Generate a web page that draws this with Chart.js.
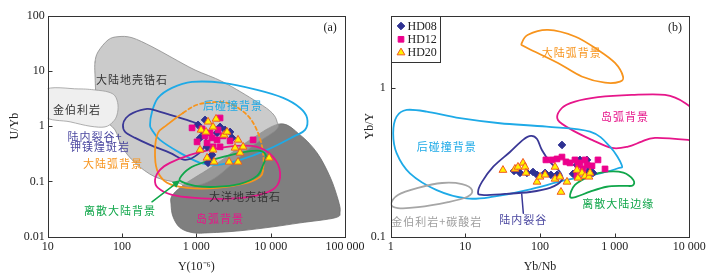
<!DOCTYPE html>
<html lang="zh">
<head>
<meta charset="UTF-8">
<title>锆石构造环境判别图</title>
<style>
    body { margin: 0; background: #fff; }
    .wrap { position: relative; width: 711px; height: 278px; overflow: hidden; }
    #chartA { position: absolute; left: 0; top: 0; }
    #chartB { position: absolute; left: 355px; top: 0; }
</style>
</head>
<body>
<div class="wrap">
    <canvas id="chartA" width="380" height="278"></canvas>
    <canvas id="chartB" width="356" height="278"></canvas>
</div>
<script src="https://cdn.jsdelivr.net/npm/chart.js"></script>
<script>
// ---- panel (a): U/Yb vs Y(10^-6) ----
const xTicksA = [10, 100, 1000, 10000, 100000];
const yTicksA = [0.01, 0.1, 1, 10, 100];

const hd08a = [[1054,1.055],[1309,1.30],[2084,0.971],[2843,0.788],[3023,0.614],[1437,0.217],[1528,0.279],[1393,0.423],[1122,0.614],[1899,0.757],[2433,0.857],[1626,0.303],[1231,0.788]];
const hd12a = [[875,0.932],[1022,0.520],[2084,1.41],[5797,0.565],[2843,0.542],[1193,0.894],[1528,0.757],[1393,0.499],[1899,0.565],[1678,0.423],[2084,0.423],[1959,0.857],[1309,0.668],[1626,0.614],[2288,0.668]];
const hd20a = [[1437,1.20],[1841,1.355],[1678,0.971],[1157,0.857],[1351,0.788],[2360,0.696],[2588,0.788],[3640,0.565],[4253,0.423],[3318,0.405],[3873,0.329],[1122,0.373],[1678,0.373],[1393,0.267],[1730,0.226],[2754,0.226],[3640,0.226],[9517,0.267]];

// field outlines (Y, U/Yb)
const oceanicCrust = [[471,0.0549],[705,0.0905],[1786,0.200],[5284,0.565],[13390,1.10],[24880,0.696],[42100,0.329],[63000,0.121],[80800,0.0465],[85900,0.0282],[73600,0.022],[24880,0.0178],[10770,0.0151],[3873,0.0128],[1528,0.0118],[904,0.0118],[604,0.0145],[486,0.0229],[457,0.0378]];
const continentalCrust = [[43.3,14.5],[47.5,22.1],[64.8,36.4],[88.3,41.7],[136,40],[253,27.5],[471,17.4],[960,10.4],[2288,6.32],[6561,2.75],[10450,1.74],[12190,1.20],[11830,0.857],[5284,0.405],[1786,0.116],[823,0.0798],[567,0.0944],[278,0.121],[150,0.217],[100,0.423],[80.5,0.857],[55.5,1.41],[45.6,2.99],[43.3,8.47]];
const kimberliteA = [[9,4.53],[25.6,4.73],[43.3,4.53],[64.8,4.17],[80.5,3.53],[88.3,2.43],[85.6,1.60],[75.7,1.20],[59,0.971],[37.1,1.0],[20,1.20],[9,1.53]];
const postCollisionA = [[238,1.055],[253,1.81],[305,3.25],[471,4.93],[875,6.32],[2288,6.07],[6561,4.53],[14700,3.25],[24880,2.14],[30900,1.41],[29000,0.857],[20000,0.641],[8944,0.373],[3873,0.246],[1899,0.200],[1122,0.217],[604,0.329],[324,0.565],[253,0.857]];
const contArcA = [[662,1.74],[1122,2.53],[2588,2.64],[4810,1.60],[6765,0.757],[7903,0.329],[7903,0.162],[7197,0.121],[4810,0.0944],[1899,0.0766],[750,0.0766],[403,0.0944],[296,0.162],[278,0.373],[305,0.757],[403,1.055]];
const riftA = [[103,1.055],[113,1.41],[141,1.74],[217,2.05],[296,1.89],[550,1.47],[960,1.15],[1309,0.857],[1309,0.459],[1022,0.303],[705,0.246],[442,0.329],[238,0.459],[150,0.614],[110,0.788]];
const dispersedA = [[604,0.116],[823,0.176],[1309,0.226],[2288,0.279],[4521,0.343],[7197,0.358],[8670,0.290],[7903,0.200],[6561,0.126],[3873,0.0905],[1786,0.0798],[960,0.0832],[642,0.0984]];
const islandArcA = [[278,0.107],[324,0.162],[442,0.217],[823,0.303],[1528,0.373],[3318,0.440],[6561,0.423],[10770,0.279],[13390,0.143],[11460,0.0766],[6166,0.0549],[2433,0.0485],[960,0.0505],[471,0.0573],[305,0.0766]];
const arrowA = [[253,0.0428],[567,0.0984]];

// ---- panel (b): Yb/Y vs Yb/Nb ----
const xTicksB = [1, 10, 100, 1000, 10000];
const yTicksB = [0.1, 1];

const hd08b = [[197,0.415],[44.9,0.277],[54,0.269],[67,0.269],[80.6,0.273],[91.2,0.261],[117,0.269],[140,0.261],[169,0.261],[277,0.265],[313,0.304],[343,0.329],[426,0.329],[440,0.273],[513,0.269],[468,0.290]];
const hd12b = [[120,0.329],[145,0.329],[169,0.334],[197,0.344],[223,0.319],[252,0.314],[294,0.329],[323,0.304],[343,0.314],[401,0.329],[426,0.304],[377,0.286],[598,0.329],[743,0.286],[313,0.256],[497,0.300]];
const hd20b = [[31.9,0.281],[46.2,0.286],[50.7,0.295],[59.2,0.314],[63,0.295],[64.9,0.269],[91.2,0.234],[100,0.253],[117,0.261],[159,0.295],[159,0.245],[185,0.253],[230,0.234],[191,0.200],[313,0.281],[323,0.249],[365,0.269],[401,0.256],[453,0.253],[468,0.269]];

const contArcB = [[56.9,2.01],[69.1,2.29],[128,2.47],[294,2.23],[598,1.81],[1011,1.48],[1294,1.20],[1180,1.108],[743,1.09],[362,1.20],[174,1.48],[85.7,1.76],[59.2,1.93]];
const islandArcB = [[174,0.611],[195,0.733],[294,0.812],[598,0.870],[1692,0.901],[4726,0.901],[8750,0.796],[11920,0.661],[11920,0.437],[9607,0.449],[3472,0.463],[2303,0.437],[1510,0.404],[921,0.396],[497,0.449],[294,0.510]];
const postCollisionB = [[1.64,0.714],[3.03,0.696],[8.48,0.628],[29.1,0.581],[123,0.551],[468,0.510],[866,0.404],[1243,0.304],[1109,0.289],[637,0.267],[228,0.241],[66.4,0.206],[23.7,0.186],[10.4,0.181],[4.13,0.206],[1.81,0.267],[1.20,0.365],[1.08,0.497],[1.20,0.644]];
const riftB = [[14.8,0.200],[16.7,0.234],[23.5,0.295],[39.6,0.372],[59.2,0.449],[75.8,0.477],[91.2,0.455],[106,0.384],[136,0.319],[185,0.273],[197,0.241],[136,0.213],[73.5,0.200],[34,0.194],[16.7,0.191]];
const riftPointer = [[56.9,0.194],[59.8,0.144]];
const kimbCarbB = [[1.01,0.166],[1.25,0.191],[2.32,0.213],[4.87,0.230],[9.02,0.226],[12.3,0.206],[10.5,0.185],[5.86,0.171],[2.32,0.158],[1.25,0.156]];
const dispersedB = [[252,0.186],[294,0.223],[468,0.256],[783,0.274],[1306,0.270],[1778,0.241],[1745,0.221],[1306,0.220],[783,0.217],[468,0.201],[310,0.186]];

const CYAN = '#1eaae7', ORANGE = '#f7941d', PURPLE = '#3a3896', GREEN = '#10a64a', PINK = '#e6168a';
const SERIF = '"Liberation Serif", "Times New Roman", serif';
const CJK = '"Noto Sans CJK SC", sans-serif';

const xy = arr => arr.map(([x, y]) => ({ x, y }));

function fmt(v) {
    if (v >= 1000) return String(v).replace(/\B(?=(\d{3})+(?!\d))/g, ' ');
    return String(v);
}

// field outlines and annotations per canvas (kept out of chart options so
// the option resolver does not touch them)
const panels = {
    chartA: {
        xTitle: 'Y(10⁻⁶)', yTitle: 'U/Yb', yTitleGap: 33, tag: ['(a)', 63000, 59.9],
        shapes: [
            { pts: oceanicCrust, fill: '#7f7f7f', stroke: '#6e6e6e', width: 0.8 },
            { pts: continentalCrust, fill: 'rgba(168,168,168,0.6)', stroke: '#8a8a8a', width: 0.8 },
            { pts: kimberliteA, fill: '#efefef', stroke: '#9a9a9a', width: 0.8 },
            { pts: postCollisionA, stroke: CYAN },
            { pts: riftA, stroke: PURPLE },
            { pts: contArcA, stroke: ORANGE, dashUntil: 6 },
            { pts: dispersedA, stroke: GREEN },
            { pts: islandArcA, stroke: PINK },
            { pts: arrowA, stroke: GREEN, line: true, arrow: true, width: 1.5 }
        ],
        labels: [
            ['金伯利岩', 24.8, 1.97, '#333'],
            ['大陆地壳锆石', 136, 6.88, '#333'],
            ['后碰撞背景', 3119, 2.33, CYAN],
            ['陆内裂谷+', 43.3, 0.641, '#4b48a0'],
            ['钾镁煌斑岩', 50.6, 0.423, '#4b48a0'],
            ['大陆弧背景', 75.7, 0.208, ORANGE],
            ['离散大陆背景', 94, 0.0294, GREEN],
            ['大洋地壳锆石', 4521, 0.0527, '#333'],
            ['岛弧背景', 2084, 0.0211, PINK]
        ]
    },
    chartB: {
        xTitle: 'Yb/Nb', yTitle: 'Yb/Y', yTitleGap: 21, tag: ['(b)', 6430, 2.54], legend: true,
        shapes: [
            { pts: contArcB, stroke: ORANGE },
            { pts: islandArcB, stroke: PINK },
            { pts: postCollisionB, stroke: CYAN },
            { pts: riftB, stroke: PURPLE },
            { pts: riftPointer, stroke: PURPLE, line: true, width: 1.5 },
            { pts: kimbCarbB, stroke: '#a6a6a6' },
            { pts: dispersedB, stroke: GREEN }
        ],
        labels: [
            ['大陆弧背景', 266, 1.72, ORANGE],
            ['岛弧背景', 1376, 0.644, PINK],
            ['后碰撞背景', 5.63, 0.404, CYAN],
            ['金伯利岩+碳酸岩', 4.13, 0.126, '#a0a0a0'],
            ['陆内裂谷', 59.8, 0.1296, '#4b48a0'],
            ['离散大陆边缘', 1119, 0.166, GREEN]
        ]
    }
};

// closed catmull-rom curve through pixel points
function curvePath(ctx, p, from, to) {
    const n = p.length;
    const at = i => p[(i + n) % n];
    const k = 1 / 6;
    ctx.moveTo(at(from)[0], at(from)[1]);
    for (let i = from; i < to; i++) {
        const p0 = at(i - 1), p1 = at(i), p2 = at(i + 1), p3 = at(i + 2);
        ctx.bezierCurveTo(p1[0] + (p2[0] - p0[0]) * k, p1[1] + (p2[1] - p0[1]) * k,
                          p2[0] - (p3[0] - p1[0]) * k, p2[1] - (p3[1] - p1[1]) * k,
                          p2[0], p2[1]);
    }
}

const regionPlugin = {
    id: 'regions',
    beforeDatasetsDraw(chart) {
        const cfg = panels[chart.canvas.id];
        const { ctx, chartArea: a } = chart;
        const sx = chart.scales.x, sy = chart.scales.y;
        const px = d => [sx.getPixelForValue(d[0]), sy.getPixelForValue(d[1])];
        ctx.save();
        ctx.beginPath();
        ctx.rect(a.left, a.top, a.right - a.left, a.bottom - a.top);
        ctx.clip();
        ctx.lineJoin = 'round';
        ctx.lineCap = 'round';
        cfg.shapes.forEach(s => {
            const p = s.pts.map(px);
            const n = p.length;
            if (s.fill) {
                ctx.beginPath();
                curvePath(ctx, p, 0, n);
                ctx.closePath();
                ctx.fillStyle = s.fill;
                ctx.fill();
            }
            ctx.strokeStyle = s.stroke;
            ctx.lineWidth = s.width || 1.8;
            if (s.line) {
                ctx.beginPath();
                ctx.moveTo(p[0][0], p[0][1]);
                p.slice(1).forEach(q => ctx.lineTo(q[0], q[1]));
                ctx.stroke();
                if (s.arrow) {
                    const e = p[n - 1], b = p[n - 2];
                    const ang = Math.atan2(e[1] - b[1], e[0] - b[0]);
                    const c = Math.cos(ang), si = Math.sin(ang);
                    ctx.beginPath();
                    ctx.moveTo(e[0] + c * 3, e[1] + si * 3);
                    ctx.lineTo(e[0] - c * 5 - si * 3.5, e[1] - si * 5 + c * 3.5);
                    ctx.lineTo(e[0] - c * 5 + si * 3.5, e[1] - si * 5 - c * 3.5);
                    ctx.closePath();
                    ctx.fillStyle = s.stroke;
                    ctx.fill();
                }
                return;
            }
            const cut = s.dashUntil || 0;
            if (cut) {
                ctx.setLineDash([3.5, 3]);
                ctx.beginPath();
                curvePath(ctx, p, 0, cut);
                ctx.stroke();
                ctx.setLineDash([]);
            }
            ctx.beginPath();
            curvePath(ctx, p, cut, n);
            ctx.stroke();
        });
        ctx.textAlign = 'center';
        ctx.textBaseline = 'middle';
        ctx.font = '11px ' + CJK;
        ctx.letterSpacing = '1px';
        cfg.labels.forEach(l => {
            ctx.fillStyle = l[3];
            ctx.fillText(l[0], sx.getPixelForValue(l[1]), sy.getPixelForValue(l[2]));
        });
        ctx.restore();
    },
    afterDraw(chart) {
        const cfg = panels[chart.canvas.id];
        const { ctx, chartArea: a } = chart;
        const sx = chart.scales.x, sy = chart.scales.y;
        ctx.save();
        ctx.strokeStyle = '#333';
        ctx.lineWidth = 1;
        const L = Math.round(a.left) + 0.5, T = Math.round(a.top) + 0.5;
        const R = Math.round(a.right) + 0.5, B = Math.round(a.bottom) + 0.5;
        ctx.strokeRect(L, T, R - L, B - T);
        ctx.beginPath();
        sx.ticks.forEach(t => {
            const x = Math.round(sx.getPixelForValue(t.value)) + 0.5;
            ctx.moveTo(x, B); ctx.lineTo(x, B - 4);
        });
        sy.ticks.forEach(t => {
            const y = Math.round(sy.getPixelForValue(t.value)) + 0.5;
            ctx.moveTo(L, y); ctx.lineTo(L + 4, y);
        });
        ctx.stroke();

        ctx.fillStyle = '#222';
        ctx.font = '12px ' + SERIF;
        ctx.textAlign = 'center';
        ctx.textBaseline = 'middle';
        ctx.fillText(cfg.xTitle, (a.left + a.right) / 2, a.bottom + 30);
        ctx.fillText(cfg.tag[0], sx.getPixelForValue(cfg.tag[1]), sy.getPixelForValue(cfg.tag[2]));
        ctx.save();
        ctx.translate(a.left - cfg.yTitleGap, (a.top + a.bottom) / 2);
        ctx.rotate(-Math.PI / 2);
        ctx.fillText(cfg.yTitle, 0, 0);
        ctx.restore();

        if (cfg.legend) {
            const bx = L, by = T, bw = 49, bh = 46;
            ctx.fillStyle = '#fff';
            ctx.fillRect(bx, by, bw, bh);
            ctx.strokeStyle = '#333';
            ctx.strokeRect(bx, by, bw, bh);
            const items = chart.data.datasets.slice().sort((p, q) => p.legendRank - q.legendRank);
            items.forEach((ds, i) => {
                const cy = by + 9.5 + i * 13.3;
                ctx.fillStyle = ds.backgroundColor;
                ctx.strokeStyle = ds.borderColor;
                ctx.lineWidth = ds.borderWidth;
                Chart.helpers.drawPoint(ctx, { pointStyle: ds.pointStyle, radius: ds.pointRadius, rotation: 0, borderWidth: ds.borderWidth }, bx + 9.5, cy);
                ctx.fillStyle = '#222';
                ctx.textAlign = 'left';
                ctx.fillText(ds.label, bx + 16, cy + 0.5);
            });
        }
        ctx.restore();
    }
};

function sampleSets(d08, d12, d20) {
    return [
        { label: 'HD20', data: xy(d20), order: 0, legendRank: 2, pointStyle: 'triangle', pointRadius: 4.5,
          backgroundColor: '#fff200', borderColor: '#f15a24', borderWidth: 1 },
        { label: 'HD12', data: xy(d12), order: 1, legendRank: 1, pointStyle: 'rect', pointRadius: 4,
          backgroundColor: '#ec008c', borderColor: '#ec008c', borderWidth: 1 },
        { label: 'HD08', data: xy(d08), order: 2, legendRank: 0, pointStyle: 'rectRot', pointRadius: 3.8,
          backgroundColor: '#2e3192', borderColor: '#2e3192', borderWidth: 1 }
    ];
}

function logAxis(min, max, ticks, fitFn, pad) {
    return {
        type: 'logarithmic', min: min, max: max,
        grid: { display: false, drawTicks: false },
        border: { display: false },
        afterBuildTicks: s => { s.ticks = ticks.map(v => ({ value: v })); },
        afterFit: fitFn,
        ticks: { padding: pad, autoSkip: false, maxRotation: 0, color: '#222',
                 font: { family: SERIF, size: 12 }, callback: v => fmt(v) }
    };
}

function makeChart(id, cfg) {
    return new Chart(document.getElementById(id), {
        type: 'scatter',
        data: { datasets: cfg.datasets },
        options: {
            responsive: false,
            animation: false,
            devicePixelRatio: 1,
            layout: { padding: cfg.padding },
            plugins: {
                legend: { display: false },
                tooltip: { enabled: false }
            },
            scales: {
                x: logAxis(cfg.xMin, cfg.xMax, cfg.xTicks, s => { s.height = 41.3; }, 3),
                y: logAxis(cfg.yMin, cfg.yMax, cfg.yTicks, s => { s.width = cfg.yWidth; }, cfg.yPad)
            }
        },
        plugins: [regionPlugin]
    });
}

makeChart('chartA', {
    datasets: sampleSets(hd08a, hd12a, hd20a),
    padding: { top: 15.7, right: 35, left: 0, bottom: 0 },
    xMin: 10, xMax: 100000, xTicks: xTicksA,
    yMin: 0.01, yMax: 100, yTicks: yTicksA,
    yWidth: 47.7, yPad: 3
});

makeChart('chartB', {
    datasets: sampleSets(hd08b, hd12b, hd20b),
    padding: { top: 15.7, right: 21.7, left: 0, bottom: 0 },
    xMin: 1, xMax: 10000, xTicks: xTicksB,
    yMin: 0.1, yMax: 3.08, yTicks: yTicksB,
    yWidth: 35.7, yPad: 5
});
</script>
</body>
</html>
